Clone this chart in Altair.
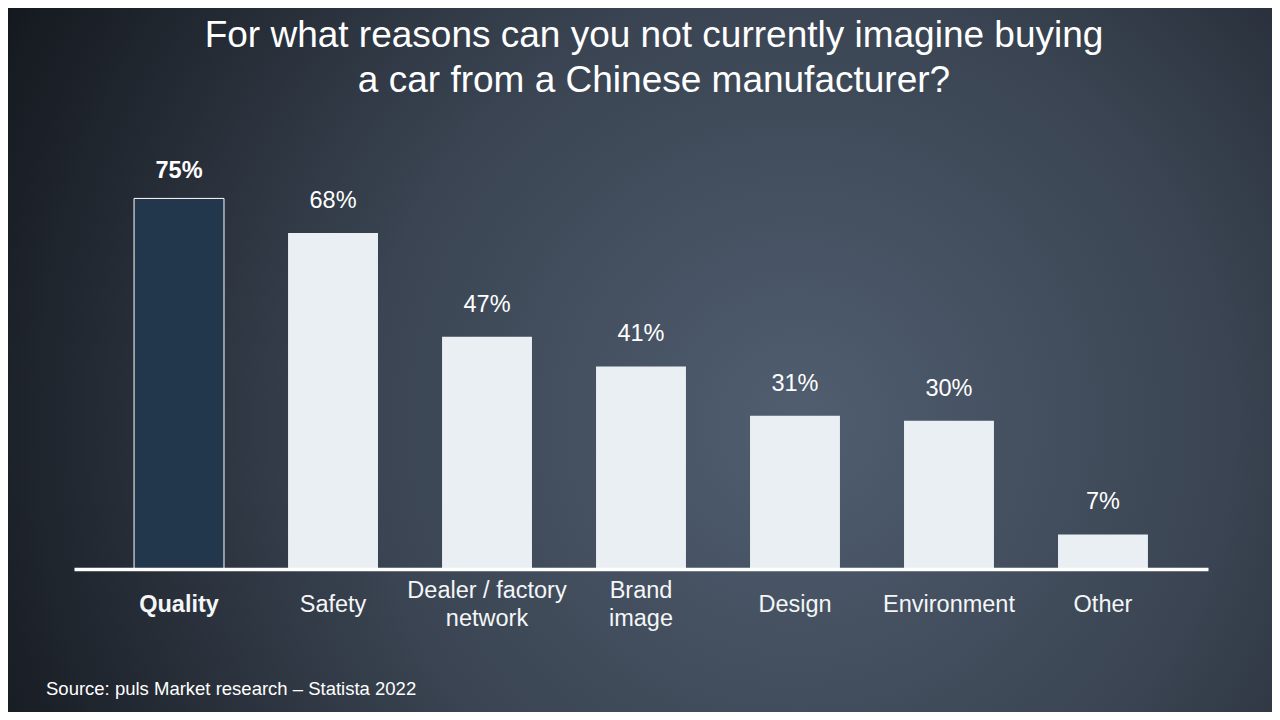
import altair as alt
import pandas as pd

categories = ["Quality", "Safety", "Dealer / factory network", "Brand image",
              "Design", "Environment", "Other"]
values = [75, 68, 47, 41, 31, 30, 7]
labels = ["75%", "68%", "47%", "41%", "31%", "30%", "7%"]
highlight = ["Quality"]

title_lines = ["For what reasons can you not currently imagine buying",
               "a car from a Chinese manufacturer?"]
source_text = "Source: puls Market research \u2013 Statista 2022"

df = pd.DataFrame({"reason": categories, "share": values, "label": labels})
df["group"] = ["hi" if c in highlight else "lo" for c in categories]

FONT = "Liberation Sans"
W, H = 1134, 420
two_line = "datum.value == 'Dealer / factory network' || datum.value == 'Brand image'"

x_enc = alt.X("reason:N", sort=categories,
              scale=alt.Scale(paddingInner=0.416, paddingOuter=0.39),
              axis=alt.Axis(title=None, domainColor="#ffffff", domainWidth=3.5,
                            ticks=False, tickSize=0, labelAngle=0, zindex=2,
                            labelFont=FONT, labelFontSize=23.5, labelColor="#f4f6f8",
                            labelPadding=35, labelLineHeight=28,
                            labelBaseline=alt.condition(two_line, alt.value("line-bottom"),
                                                        alt.value("middle")),
                            labelFontWeight=alt.condition("datum.value == 'Quality'",
                                                          alt.value("bold"), alt.value("normal")),
                            labelExpr=("datum.label == 'Dealer / factory network' ? "
                                       "['Dealer / factory', 'network'] : "
                                       "datum.label == 'Brand image' ? ['Brand', 'image'] : datum.label")))
y_enc = alt.Y("share:Q", scale=alt.Scale(domain=[0, 85], nice=False), axis=None)

bg = alt.Chart(pd.DataFrame({"k": [0]})).mark_rect(
    fill=alt.Gradient(gradient="radial", x1=0.62, y1=0.55, r1=0.0,
                      x2=0.62, y2=0.55, r2=0.75,
                      stops=[alt.GradientStop(offset=0, color="#505e70"),
                             alt.GradientStop(offset=0.45, color="#3a4452"),
                             alt.GradientStop(offset=1, color="#0f1217")]),
).encode(x=alt.value(-70), x2=alt.value(1210), y=alt.value(-150), y2=alt.value(570))

bars = alt.Chart(df).mark_bar().encode(
    x=x_enc, y=y_enc,
    color=alt.Color("group:N", scale=alt.Scale(domain=["hi", "lo"], range=["#22374b", "#e9eff3"]),
                    legend=None),
    stroke=alt.condition("datum.group == 'hi'", alt.value("#ffffff"), alt.value(None)),
    strokeWidth=alt.condition("datum.group == 'hi'", alt.value(1), alt.value(0)),
)

lab_hi = alt.Chart(df).transform_filter("datum.group == 'hi'").mark_text(
    font=FONT, fontSize=23.5, fontWeight="bold", color="#ffffff", baseline="alphabetic", dy=-20
).encode(x=alt.X("reason:N", sort=categories), y="share:Q", text="label:N")

lab_lo = alt.Chart(df).transform_filter("datum.group != 'hi'").mark_text(
    font=FONT, fontSize=23.5, color="#ffffff", baseline="alphabetic", dy=-25
).encode(x=alt.X("reason:N", sort=categories), y="share:Q", text="label:N")

src = alt.Chart(pd.DataFrame({"t": [source_text]})).mark_text(
    font=FONT, fontSize=18.5, color="#ffffff", align="left", baseline="middle"
).encode(x=alt.value(-28), y=alt.value(540), text="t:N")

chart = alt.layer(bg, bars, lab_hi, lab_lo, src).properties(
    width=W, height=H,
    title=alt.TitleParams(title_lines, font=FONT, fontSize=37, fontWeight="normal",
                          color="#ffffff", anchor="middle", frame="group",
                          lineHeight=45, offset=-101, dx=13),
    autosize=alt.AutoSizeParams(type="none"),
    padding={"left": 66, "top": 141, "right": 64, "bottom": 143},
    background="#2a313b",
).configure_view(stroke=None)

chart.save("out.html", embed_options={"renderer": "svg", "actions": False})
